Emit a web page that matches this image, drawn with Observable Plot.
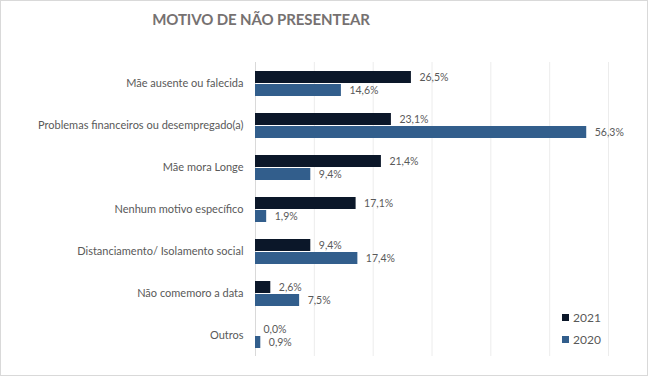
<!DOCTYPE html>
<html>
<head>
<meta charset="utf-8">
<script src="https://cdn.jsdelivr.net/npm/d3@7"></script>
<script src="https://cdn.jsdelivr.net/npm/@observablehq/plot@0.6"></script>
<style>
  body { margin: 0; background: #fff; }
  #wrap { position: relative; width: 648px; height: 376px; overflow: hidden; font-family: Lato, "Open Sans", sans-serif; }
  #frame { position: absolute; inset: 0; border: 1px solid #d9d9d9; box-sizing: border-box; pointer-events: none; }
  #title { position: absolute; top: 10px; left: 0; width: 522px; text-align: center; font-size: 15px; font-weight: bold; color: #767171; letter-spacing: -0.1px; }
  #chart { position: absolute; top: 40px; left: 0; }
  #legend { position: absolute; left: 562px; top: 306px; font-size: 12px; color: #595959; }
  .item { display: flex; align-items: center; height: 22px; }
  .sw { width: 7px; height: 7px; margin-right: 4px; }
</style>
</head>
<body>
<div id="wrap">
  <div id="title">MOTIVO DE NÃO PRESENTEAR</div>
  <div id="chart"></div>
  <div id="legend"></div>
  <div id="frame"></div>
</div>
<script>
const categories = [
  "Mãe ausente ou falecida",
  "Problemas financeiros ou desempregado(a)",
  "Mãe mora Longe",
  "Nenhum motivo específico",
  "Distanciamento/ Isolamento social",
  "Não comemoro a data",
  "Outros"
];
const years = ["2021", "2020"];
const values2021 = [26.5, 23.1, 21.4, 17.1, 9.4, 2.6, 0.0];
const values2020 = [14.6, 56.3, 9.4, 1.9, 17.4, 7.5, 0.9];
const colors = ["#0b1729", "#325e8c"];
const xTicks = [0, 10, 20, 30, 40, 50, 60];

const data = [];
categories.forEach((c, i) => {
  data.push({cat: c, year: "2021", v: values2021[i]});
  data.push({cat: c, year: "2020", v: values2020[i]});
});
const fmt = v => v.toFixed(1).replace(".", ",") + "%";

const H = 336, MT = 20, MB = 19;
const facetH = (H - MT - MB) / categories.length;

const plot = Plot.plot({
  width: 648,
  height: H,
  marginTop: MT,
  marginBottom: MB,
  marginLeft: 255,
  marginRight: 40,
  style: {fontFamily: "Lato, 'Open Sans', sans-serif", fontSize: "11px", color: "#595959", background: "transparent"},
  x: {domain: [0, 60], axis: null},
  y: {domain: years, axis: null, paddingInner: 0.08, paddingOuter: 0.6},
  fy: {domain: categories, padding: 0, label: null, tickSize: 0, tickPadding: 12},
  color: {domain: years, range: colors},
  marks: [
    Plot.ruleX(xTicks.slice(1), {stroke: "#ececec", strokeOpacity: 1}),
    Plot.ruleX([0], {stroke: "#d9d9d9", strokeOpacity: 1}),
    Plot.ruleY(categories, {fy: d => d, x1: 0, x2: 0, insetLeft: -5, dy: -facetH / 2, stroke: "#d9d9d9"}),
    Plot.ruleY(categories.slice(-1), {fy: d => d, x1: 0, x2: 0, insetLeft: -5, dy: facetH / 2, stroke: "#d9d9d9"}),
    Plot.barX(data, {fy: "cat", y: "year", x: "v", fill: "year"}),
    Plot.text(data, {fy: "cat", y: "year", x: "v", text: d => fmt(d.v), dx: 8, textAnchor: "start", fill: "#595959", fontSize: 10.5}),
    Plot.axisFy({anchor: "left", tickSize: 0, tickPadding: 12, label: null, fontSize: 11, fill: "#595959"})
  ]
});
document.getElementById("chart").appendChild(plot);

const legend = document.getElementById("legend");
years.forEach((y, i) => {
  const it = document.createElement("div");
  it.className = "item";
  it.innerHTML = `<span class="sw" style="background:${colors[i]}"></span><span>${y}</span>`;
  legend.appendChild(it);
});
</script>
</body>
</html>
